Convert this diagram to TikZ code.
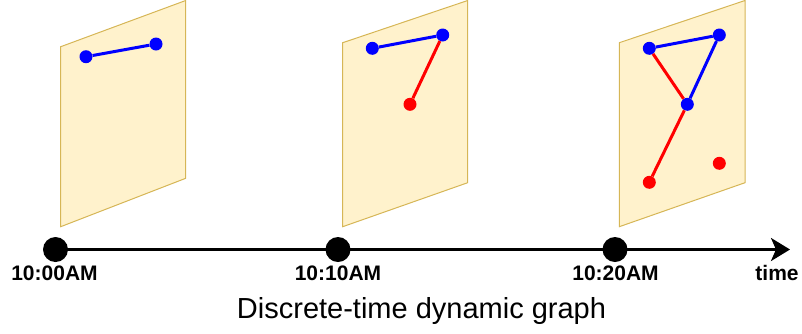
\documentclass[tikz,border=0pt]{standalone}
\usepackage{fontspec}
\setmainfont{Liberation Sans}
\usetikzlibrary{arrows.meta}
\definecolor{panelfill}{HTML}{FFF2CC}
\definecolor{paneldraw}{HTML}{D6B656}
\definecolor{vblue}{HTML}{0000FF}
\definecolor{vred}{HTML}{FF0000}
\tikzset{
  panel/.style={fill=panelfill, draw=paneldraw, line width=1pt, line join=miter},
  bv/.style={circle, fill=vblue, inner sep=0pt, minimum size=13pt},
  rv/.style={circle, fill=vred, inner sep=0pt, minimum size=13pt},
  be/.style={draw=vblue, line width=3pt},
  re/.style={draw=vred, line width=3pt},
  tick/.style={circle, fill=black, inner sep=0pt, minimum size=25pt},
  tlabel/.style={font=\bfseries\fontsize{21}{24}\selectfont, anchor=base},
  caption/.style={font=\fontsize{29}{34}\selectfont, anchor=base}
}
\begin{document}
\begin{tikzpicture}[x=1pt, y=-1pt]
\useasboundingbox (0,0) rectangle (802,333);
% panels
\path[panel] (60.7,46.7) -- (185.7,0.5) -- (185.7,178.3) -- (60.7,226.7) -- cycle;
\path[panel] (342.7,42.7) -- (467.7,0.5) -- (467.7,182.7) -- (342.7,226.7) -- cycle;
\path[panel] (619.3,42.7) -- (745,0.5) -- (745,182.7) -- (619.3,226.7) -- cycle;
% graph 1
\node[bv] (a1) at (86,56.7) {};
\node[bv] (b1) at (156,44) {};
\draw[be] (a1) -- (b1);
% graph 2
\node[bv] (a2) at (372.3,48.3) {};
\node[bv] (b2) at (442.7,35) {};
\node[rv] (c2) at (410,104.3) {};
\draw[be] (a2) -- (b2);
\draw[re] (b2) -- (c2);
% graph 3
\node[bv] (a3) at (649.3,48.3) {};
\node[bv] (b3) at (719.3,35) {};
\node[bv] (c3) at (687.3,104.3) {};
\node[rv] (d3) at (649.3,182.3) {};
\node[rv] (e3) at (719.3,163.3) {};
\draw[be] (a3) -- (b3);
\draw[be] (b3) -- (c3);
\draw[re] (a3) -- (c3);
\draw[re] (c3) -- (d3);
% timeline
\coordinate (tend) at (790,249.5);
\draw[line width=3pt, -{Stealth[length=19pt, width=23pt, inset=5pt]}] (55.5,249.5) -- (tend);
\node[tick] (t1) at (55.5,249.5) {};
\node[tick] (t2) at (338,249.5) {};
\node[tick] (t3) at (615,249.5) {};
\node[tlabel] (l1) at (54.5,280) {10:00AM};
\node[tlabel] (l2) at (338,280) {10:10AM};
\node[tlabel] (l3) at (615.5,280) {10:20AM};
\node[tlabel] (l4) at (777,280) {time};
\node[caption] (cap) at (421.5,318) {Discrete-time dynamic graph};
\end{tikzpicture}
\end{document}
